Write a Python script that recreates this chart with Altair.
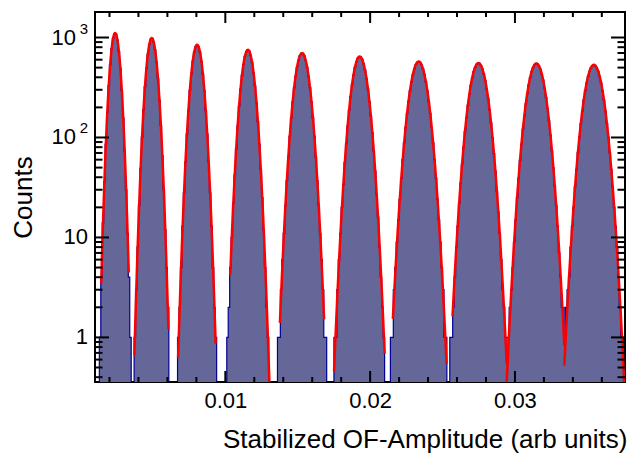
import altair as alt
import numpy as np
import pandas as pd

# ---------------- values ----------------
X_MIN, X_MAX = 0.001, 0.0376
Y_MIN, Y_MAX = 0.358, 1800.0
BIN_WIDTH = 0.0001

# Gaussian fit results of the ten peaks
peak_center = [0.00239, 0.00492, 0.00805, 0.01156, 0.01530,
               0.01928, 0.02335, 0.02748, 0.03148, 0.03545]
peak_height = [1107, 986, 845, 753, 698, 646, 575, 555, 550, 533]
peak_sigma = [0.000283, 0.000314, 0.000345, 0.000379, 0.000434,
              0.000465, 0.000517, 0.000524, 0.000535, 0.000548]
# fit ranges of the red curves
fit_lo = [0.00143, 0.00372, 0.00674, 0.01034, 0.01377,
          0.01751, 0.02157, 0.02569, 0.02943, 0.03341]
fit_hi = [0.00333, 0.00607, 0.00933, 0.01312, 0.01682,
          0.02100, 0.02528, 0.02943, 0.03341, 0.03760]

x_tick_major = [0.01, 0.02, 0.03]
x_tick_minor = [0.002, 0.004, 0.006, 0.008, 0.012, 0.014, 0.016, 0.018,
                0.022, 0.024, 0.026, 0.028, 0.032, 0.034, 0.036]
y_tick_major = [1, 10, 100, 1000]
y_label_base = ["1", "10", "10", "10"]
y_label_exp = ["", "", "2", "3"]
y_tick_minor = [0.4, 0.5, 0.6, 0.7, 0.8, 0.9,
                2, 3, 4, 5, 6, 7, 8, 9,
                20, 30, 40, 50, 60, 70, 80, 90,
                200, 300, 400, 500, 600, 700, 800, 900]

x_title = "Stabilized OF-Amplitude (arb units)"
y_title = "Counts"

# ---------------- styling ----------------
W, H = 530, 370
FILL = "#646797"
LINE = "#000099"
RED = "#ff0000"
FONT = "Liberation Sans"

# ---------------- tables ----------------
def model(x):
    total = np.zeros_like(x)
    for c, a, s in zip(peak_center, peak_height, peak_sigma):
        total += a * np.exp(-0.5 * ((x - c) / s) ** 2)
    return total

n_bins = int(round((X_MAX - X_MIN) / BIN_WIDTH))
edges = X_MIN + BIN_WIDTH * np.arange(n_bins + 1)
centers = edges[:-1] + BIN_WIDTH / 2
counts = np.round(model(centers))
draw = np.where(counts >= 1, counts, 0.01)
hist_df = pd.DataFrame({"x": np.append(edges[:-1], edges[-1]),
                        "y": np.append(draw, draw[-1])})
hist_df["y0"] = 0.01

fit_rows = []
for i, (c, a, s, lo, hi) in enumerate(zip(peak_center, peak_height, peak_sigma, fit_lo, fit_hi)):
    xs = np.linspace(lo, hi, 160)
    ys = a * np.exp(-0.5 * ((xs - c) / s) ** 2)
    fit_rows.append(pd.DataFrame({"x": xs, "y": ys, "peak": i}))
fit_df = pd.concat(fit_rows, ignore_index=True)

xmaj_df = pd.DataFrame({"x": x_tick_major})
xmin_df = pd.DataFrame({"x": x_tick_minor})
ymaj_df = pd.DataFrame({"y": y_tick_major})
ymin_df = pd.DataFrame({"y": y_tick_minor})
ylab_df = pd.DataFrame({"y": y_tick_major, "base": y_label_base, "exp": y_label_exp})
ylab_plain = ylab_df[ylab_df["exp"] == ""]
ylab_pow = ylab_df[ylab_df["exp"] != ""]

xscale = alt.Scale(domain=[X_MIN, X_MAX], nice=False, zero=False)
yscale = alt.Scale(type="log", domain=[Y_MIN, Y_MAX], nice=False)

x_axis = alt.Axis(values=x_tick_major, format=".2f", ticks=False, domain=False, grid=False,
                  labelFontSize=22, labelPadding=8, labelFlush=False,
                  title=x_title, titleFontSize=26, titleFontWeight="normal",
                  titleAlign="right", titleX=532, titleY=65, titleBaseline="alphabetic")
y_axis = alt.Axis(values=y_tick_major, labels=False, ticks=False, domain=False, grid=False,
                  title=y_title, titleFontSize=26, titleFontWeight="normal",
                  titleX=-64, titleY=185, titleAngle=270, titleAlign="center",
                  titleBaseline="alphabetic")

area = alt.Chart(hist_df).mark_area(interpolate="step-after", color=FILL, opacity=1,
                                    clip=True).encode(
    x=alt.X("x:Q", scale=xscale, axis=x_axis),
    y=alt.Y("y:Q", scale=yscale, axis=y_axis),
    y2=alt.Y2("y0:Q"),
)
outline = alt.Chart(hist_df).mark_line(interpolate="step-after", color=LINE, strokeWidth=1.2,
                                       clip=True).encode(
    x=alt.X("x:Q", scale=xscale), y=alt.Y("y:Q", scale=yscale))
fits = alt.Chart(fit_df).mark_line(color=RED, strokeWidth=2.5, clip=True).encode(
    x=alt.X("x:Q", scale=xscale), y=alt.Y("y:Q", scale=yscale), detail="peak:N")

def xticks(df, length):
    bot = alt.Chart(df).mark_rule(color="black", strokeWidth=2).encode(
        x=alt.X("x:Q", scale=xscale), y=alt.value(H), y2=alt.value(H - length))
    top = alt.Chart(df).mark_rule(color="black", strokeWidth=2).encode(
        x=alt.X("x:Q", scale=xscale), y=alt.value(0), y2=alt.value(length))
    return [bot, top]

def yticks(df, length):
    left = alt.Chart(df).mark_rule(color="black", strokeWidth=2).encode(
        y=alt.Y("y:Q", scale=yscale), x=alt.value(0), x2=alt.value(length))
    right = alt.Chart(df).mark_rule(color="black", strokeWidth=2).encode(
        y=alt.Y("y:Q", scale=yscale), x=alt.value(W), x2=alt.value(W - length))
    return [left, right]

lab_plain = alt.Chart(ylab_plain).mark_text(
    font=FONT, fontSize=22, align="right", baseline="middle", color="black").encode(
    y=alt.Y("y:Q", scale=yscale), x=alt.value(-7), text="base:N")
lab_base = alt.Chart(ylab_pow).mark_text(
    font=FONT, fontSize=22, align="right", baseline="middle", color="black").encode(
    y=alt.Y("y:Q", scale=yscale), x=alt.value(-19), text="base:N")
lab_exp = alt.Chart(ylab_pow).mark_text(
    font=FONT, fontSize=15, align="right", baseline="middle", dy=-9, color="black").encode(
    y=alt.Y("y:Q", scale=yscale), x=alt.value(-7), text="exp:N")

layers = [area, outline, fits] + xticks(xmin_df, 5) + xticks(xmaj_df, 11) \
    + yticks(ymin_df, 7.5) + yticks(ymaj_df, 14) + [lab_plain, lab_base, lab_exp]

chart = alt.layer(*layers).properties(
    width=W, height=H,
    autosize=alt.AutoSizeParams(type="none"),
    padding={"left": 87, "top": 4, "right": 3, "bottom": 71},
    background="white",
).configure_view(stroke="black", strokeWidth=2).configure_axis(
    labelFont=FONT, titleFont=FONT, labelColor="black", titleColor="black"
)

chart.save("out.html", embed_options={"renderer": "svg", "actions": False})
